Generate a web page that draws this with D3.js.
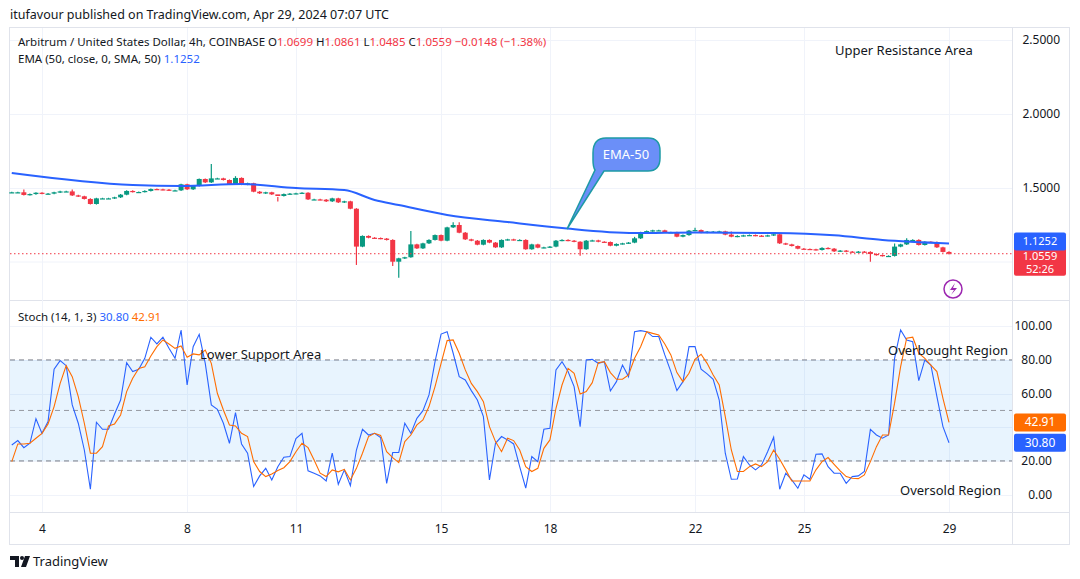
<!DOCTYPE html>
<html><head><meta charset="utf-8">
<script src="https://cdn.jsdelivr.net/npm/d3@7"></script>
<style>body{margin:0;background:#fff;font-family:"Noto Sans","DejaVu Sans",sans-serif;}svg text{font-family:"Noto Sans","DejaVu Sans",sans-serif;}</style>
</head><body><svg id="c" width="1080" height="579"></svg>
<script>
const closes=[1.471,1.471,1.453,1.459,1.468,1.462,1.462,1.471,1.477,1.477,1.450,1.444,1.426,1.392,1.430,1.430,1.430,1.437,1.455,1.480,1.473,1.473,1.480,1.493,1.491,1.489,1.484,1.484,1.525,1.491,1.514,1.561,1.538,1.565,1.565,1.554,1.527,1.568,1.523,1.532,1.475,1.464,1.471,1.457,1.446,1.459,1.462,1.464,1.468,1.423,1.423,1.421,1.410,1.430,1.403,1.410,1.360,1.104,1.176,1.164,1.162,1.158,1.149,1.002,1.025,1.032,1.119,1.092,1.126,1.149,1.182,1.144,1.234,1.250,1.198,1.153,1.144,1.117,1.149,1.131,1.099,1.149,1.153,1.149,1.149,
1.086,1.119,1.097,1.099,1.104,1.144,1.149,1.144,1.137,1.086,1.144,1.146,1.137,1.135,1.110,1.122,1.126,1.131,1.160,1.201,1.209,1.214,1.214,1.201,1.201,1.171,1.182,1.212,1.216,1.198,1.205,1.205,1.207,1.185,1.171,1.176,1.180,1.182,1.178,1.176,1.180,1.187,1.126,1.119,1.108,1.090,1.088,1.086,1.081,1.095,1.090,1.072,1.077,1.070,1.068,1.070,1.068,1.054,1.047,1.041,1.041,1.104,1.119,1.149,1.149,1.115,1.137,1.135,1.099,1.068,1.0559];
const firstOpen=1.471;
const highWicks=[[2,1.49],[10,1.49],[33,1.662],[37,1.58],[44,1.44],[66,1.21],[73,1.268],[74,1.268],[103,1.17],[113,1.232],[119,1.206],[146,1.125],[148,1.16]];
const lowWicks=[[44,1.408],[57,0.98],[63,0.973],[64,0.894],[94,1.043],[142,1.002],[155,1.05]];
const emaPts=[[0,1.601],[20,1.52],[28,1.514],[38,1.527],[47,1.50],[55,1.486],[60,1.419],[64,1.385],[72,1.318],[82,1.27],[91,1.23],[103,1.196],[113,1.20],[126,1.196],[136,1.18],[144,1.149],[155,1.1252]];
const stochK=[29.5,32.1,27.9,30.5,45.1,36.4,43.4,74.5,79.6,76.6,53.3,42.4,26.5,3.2,43,38.8,38.8,47.9,56.2,78.4,73.1,74.5,81,93.5,89.5,93.5,86.9,81,97.8,65.1,87.9,95.2,78,53.3,50.7,42.4,30.5,48.7,30.1,24.6,4.8,11.1,15.6,8.7,16.6,22.2,22.6,33.3,36.4,14.1,12.7,11.1,8.1,24.6,6.1,14.7,5.3,26.5,38.8,35.4,36.4,33.9,6.7,25,25,42.4,36.4,45.3,49.9,59.2,79,95.4,96.8,84,70.1,68.1,61.8,56.2,46.3,8.7,30.5,
34.5,32.5,30.1,16.6,3.8,22.6,19.6,38.8,39.4,74.1,79,73.1,64.2,40.4,80,80.4,78,79,61.6,67.1,77,70.1,96.8,97.4,96.8,93.9,93.9,83,73.1,61.8,67.1,87.9,87.9,74.5,71.7,68.5,56.2,24.6,9.1,9.3,22.6,17.6,14.7,17.6,25.5,34.1,3.2,12.7,8.7,3.8,11.7,9.1,24,24.2,16.6,12.7,12.7,6.7,10.7,11.1,13.7,38.8,35.4,33.5,35.4,81,97.8,91.9,90.9,67.7,80,77,58.2,40.4,30.8];
const stochD=[19.6,30.1,30.1,30.5,33.5,36.4,42,52.3,66.1,76.6,70.1,58.2,42.4,24.6,24.6,28.5,40.8,42,47.3,61.2,69.1,75,76,82.4,87.9,91.9,89.5,86.9,88.3,81.6,83.6,83,85.9,78,60.2,50.3,41.4,40.8,36.4,34.5,19.6,13.7,10.7,12.3,14.3,16,19.6,25.5,30.5,27.9,20.6,12.7,10.7,14.7,13.5,15,8.7,15.6,24.6,34.5,36.4,35.2,25.5,22,19,31.5,35.4,41.4,44.4,52.3,64.2,78,91.5,91.9,84,74.1,66.1,61.2,55.2,40.4,31.5,
25.5,33.5,32.1,26.5,16.6,13.7,15.6,27.5,32.5,51.3,65.1,75,72.1,59.8,61.2,66.5,78.4,79,72.5,68.5,68.5,71.1,81,87.9,96.8,95.8,94.9,89.5,83,72.5,67.1,72.1,80.4,83.4,78,71.1,65.1,46.3,26.5,13.7,13.7,16.6,18.2,16.6,19.6,26.5,21,14.7,8.1,8.1,8.1,8.1,14.7,19.6,22,18,14.1,10.7,9.7,9.5,11.7,19.6,28.5,35.4,35.4,54.3,76,92.9,93.5,84,81,77,73.1,57.2,42.91];
const priceTicks=[2.5,2.0,1.5];
const stochTicks=[100,80,60,20,0];
const dayTicks=[4,8,11,15,18,22,25,29];

const svg=d3.select("#c");
const start=Date.UTC(2024,3,3,4);const H=3600e3;
const dates=closes.map((c,i)=>new Date(start+i*4*H));
const x=d3.scaleTime().domain([new Date(Date.UTC(2024,3,4)),new Date(Date.UTC(2024,3,29))]).range([42,949]);
const y=d3.scaleLinear().domain([2.5,1.0]).range([40,262]);
const ys=d3.scaleLinear().domain([100,0]).range([326.3,494.6]);
const L=10,R=1012,up="#089981",dn="#f23645",blue="#2962ff",gridC="#f0f3fa";

svg.append("text").attr("x",10).attr("y",19).attr("font-size",12.5).attr("fill","#131722").text("itufavour published on TradingView.com, Apr 29, 2024 07:07 UTC");
svg.append("rect").attr("x",9.5).attr("y",27.5).attr("width",1060).attr("height",517).attr("fill","none").attr("stroke","#e0e3eb");
svg.append("line").attr("x1",10).attr("x2",1070).attr("y1",300.5).attr("y2",300.5).attr("stroke","#e0e3eb");
svg.append("line").attr("x1",R+.5).attr("x2",R+.5).attr("y1",28).attr("y2",544).attr("stroke","#e0e3eb");
svg.append("line").attr("x1",10).attr("x2",1070).attr("y1",512.5).attr("y2",512.5).attr("stroke","#e0e3eb");

dayTicks.forEach(d=>{const xx=Math.round(x(new Date(Date.UTC(2024,3,d))))+.5;
 svg.append("line").attr("x1",xx).attr("x2",xx).attr("y1",28).attr("y2",512).attr("stroke",gridC);
 svg.append("text").attr("x",xx).attr("y",533).attr("text-anchor","middle").attr("font-size",12).attr("fill","#131722").text(d);});
priceTicks.forEach(p=>{svg.append("line").attr("x1",L).attr("x2",R).attr("y1",Math.round(y(p))+.5).attr("y2",Math.round(y(p))+.5).attr("stroke",gridC);
 svg.append("text").attr("x",1060).attr("y",y(p)+4).attr("text-anchor","end").attr("font-size",12).attr("fill","#131722").text(p.toFixed(4));});
svg.append("line").attr("x1",L).attr("x2",R).attr("y1",y(1.0)).attr("y2",y(1.0)).attr("stroke",gridC);
[100,80,60,40,20,0].forEach(v=>svg.append("line").attr("x1",L).attr("x2",R).attr("y1",Math.round(ys(v))+.5).attr("y2",Math.round(ys(v))+.5).attr("stroke",gridC));
stochTicks.forEach(v=>svg.append("text").attr("x",1052).attr("y",ys(v)+4).attr("text-anchor","end").attr("font-size",12).attr("fill","#131722").text(v.toFixed(2)));

svg.append("rect").attr("x",L).attr("y",ys(80)).attr("width",R-L).attr("height",ys(20)-ys(80)).attr("fill","rgba(33,150,243,0.1)");
[80,50,20].forEach(v=>svg.append("line").attr("x1",L).attr("x2",R).attr("y1",ys(v)).attr("y2",ys(v)).attr("stroke",v==50?"#9598a1":"#787b86").attr("stroke-dasharray","5,4"));

const opens=closes.map((c,i)=>i?closes[i-1]:firstOpen);
const hi=new Map(highWicks),lo=new Map(lowWicks);
const g=svg.append("g");
closes.forEach((c,i)=>{const o=opens[i],col=c>=o?up:dn,xx=x(dates[i]);
 const h=hi.has(i)?hi.get(i):Math.max(o,c)+0.004,l=lo.has(i)?lo.get(i):Math.min(o,c)-0.004;
 g.append("line").attr("x1",xx).attr("x2",xx).attr("y1",y(h)).attr("y2",y(l)).attr("stroke",col).attr("stroke-width",1.2);
 const t=y(Math.max(o,c)),b=y(Math.min(o,c));
 g.append("rect").attr("x",xx-2.5).attr("y",t).attr("width",5).attr("height",Math.max(1.2,b-t)).attr("fill",col);});
svg.append("path").datum(emaPts).attr("fill","none").attr("stroke",blue).attr("stroke-width",2)
 .attr("d",d3.line().x(d=>x(dates[d[0]])).y(d=>y(d[1])).curve(d3.curveMonotoneX));
svg.append("line").attr("x1",L).attr("x2",R).attr("y1",y(1.0559)).attr("y2",y(1.0559)).attr("stroke",dn).attr("stroke-dasharray","1.5,2.5");

const sl=d3.line().x((d,i)=>x(dates[i])).y(d=>ys(d));
svg.append("path").datum(stochK).attr("fill","none").attr("stroke","#2962ff").attr("stroke-width",1.1).attr("d",sl);
svg.append("path").datum(stochD).attr("fill","none").attr("stroke","#ff6d00").attr("stroke-width",1.1).attr("d",sl);

function badge(yy,col,txt,fs){svg.append("rect").attr("x",1014).attr("y",yy-9).attr("width",52).attr("height",18).attr("rx",2).attr("fill",col);
 svg.append("text").attr("x",1040).attr("y",yy+4).attr("text-anchor","middle").attr("font-size",fs||12).attr("fill","#fff").text(txt);}
svg.append("rect").attr("x",1014).attr("y",y(1.0559)-8).attr("width",52).attr("height",30).attr("rx",2).attr("fill",dn);
badge(y(1.1252)-2,blue,"1.1252",11);
svg.append("text").attr("x",1040).attr("y",y(1.0559)+6).attr("text-anchor","middle").attr("font-size",11).attr("fill","#fff").text("1.0559");
svg.append("text").attr("x",1040).attr("y",y(1.0559)+19).attr("text-anchor","middle").attr("font-size",11).attr("fill","#fff").text("52:26");
badge(ys(42.91),"#ff6d00","42.91");
badge(ys(30.80),blue,"30.80");

const t1=svg.append("text").attr("x",18).attr("y",46).attr("font-size",11.5).attr("fill","#131722");
t1.append("tspan").text("Arbitrum / United States Dollar, 4h, COINBASE  ");
[["O","1.0699"],["H","1.0861"],["L","1.0485"],["C","1.0559"]].forEach(([k,v])=>{t1.append("tspan").text(k);t1.append("tspan").attr("fill",dn).text(v+" ");});
t1.append("tspan").attr("fill",dn).text("−0.0148 (−1.38%)");
const t2=svg.append("text").attr("x",18).attr("y",63).attr("font-size",11.5).attr("fill","#131722");
t2.append("tspan").text("EMA (50, close, 0, SMA, 50)  ");t2.append("tspan").attr("fill",blue).text("1.1252");
const t3=svg.append("text").attr("x",18).attr("y",321).attr("font-size",11.5).attr("fill","#131722");
t3.append("tspan").text("Stoch (14, 1, 3)  ");t3.append("tspan").attr("fill",blue).text("30.80  ");t3.append("tspan").attr("fill","#ff6d00").text("42.91");

svg.append("text").attr("x",835).attr("y",55).attr("font-size",13).attr("fill","#131722").text("Upper Resistance Area");
svg.append("text").attr("x",200).attr("y",359).attr("font-size",13).attr("fill","#131722").text("Lower Support Area");
svg.append("text").attr("x",888).attr("y",355).attr("font-size",13).attr("fill","#131722").text("Overbought Region");
svg.append("text").attr("x",900).attr("y",495).attr("font-size",13).attr("fill","#131722").text("Oversold Region");
svg.append("path").attr("d","M593,153 Q593,138 606,138 L648,138 Q660,138 660,151 L660,158 Q660,171 648,171 L604,171 L567,229 L595,170 Q593,167 593,160 Z")
 .attr("fill","#6b8ff8").attr("stroke","#1e9aa5").attr("stroke-width",1.5);
svg.append("text").attr("x",626).attr("y",159).attr("text-anchor","middle").attr("font-size",13).attr("fill","#fff").text("EMA-50");
svg.append("circle").attr("cx",953).attr("cy",289).attr("r",9).attr("fill","none").attr("stroke","#9c27b0").attr("stroke-width",1.5);
svg.append("path").attr("d","M955,283 L950,290 L954,290 L951,295 L957,288 L953,288 Z").attr("fill","#9c27b0");
svg.append("path").attr("d","M10,556 L19,556 L19,567 L15,567 L15,560 L10,560 Z M21,567 L25,556 L30,556 L26,567 Z").attr("fill","#131722");
svg.append("circle").attr("cx",22).attr("cy",558).attr("r",2).attr("fill","#131722");
svg.append("text").attr("x",33).attr("y",566).attr("font-size",13).attr("fill","#131722").text("TradingView");
</script></body></html>
